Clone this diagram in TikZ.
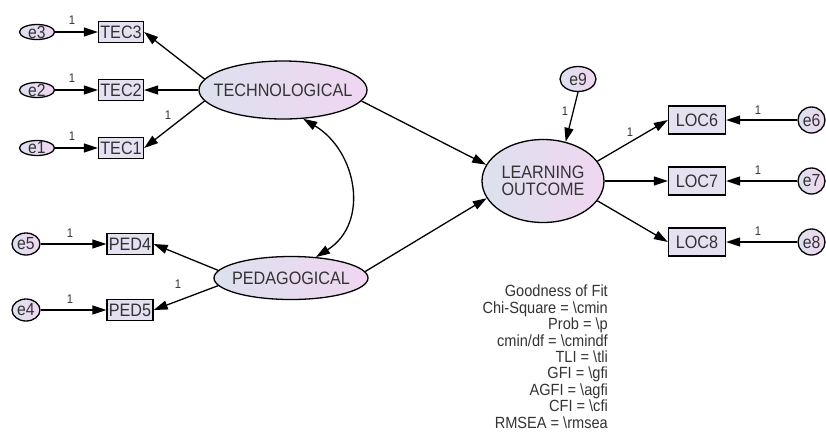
\documentclass[tikz,border=0pt]{standalone}
\usepackage{fontspec}
\setmainfont{Liberation Sans}[FakeStretch=0.9]
\usetikzlibrary{arrows.meta,shapes.geometric}
\definecolor{lfill}{HTML}{DDE1EE}
\definecolor{rfill}{HTML}{F0D6F1}
\definecolor{boxfill}{HTML}{E6E1F1}
\definecolor{txt}{HTML}{333333}
\tikzset{
  >={Triangle[length=14pt,width=9pt]},
  latent/.style={ellipse, draw=black, line width=1.3pt, left color=lfill, right color=rfill, inner sep=0pt},
  lab/.style={text=txt, font=\fontsize{18}{16.5}\selectfont, inner sep=0pt, align=center},
  errlab/.style={text=txt, font=\fontsize{17.5}{17.5}\selectfont, inner sep=0pt},
  indbox/.style={rectangle, draw=black, line width=1.3pt, fill=boxfill, inner sep=0pt, text=txt, font=\fontsize{18}{18}\selectfont},
  pth/.style={line width=1.3pt, ->},
  one/.style={text=txt, font=\fontsize{12.5}{13}\selectfont, inner sep=0pt},
}
\begin{document}
\begin{tikzpicture}[x=1pt,y=-1pt]
\useasboundingbox (0,0) rectangle (826,432);
% indicator boxes
\node[indbox, minimum width=45, minimum height=21] (tec3) at (121,32) {TEC3};
\node[indbox, minimum width=45, minimum height=21] (tec2) at (121,90) {TEC2};
\node[indbox, minimum width=45, minimum height=21] (tec1) at (121,148) {TEC1};
\node[indbox, minimum width=46, minimum height=21] (ped4) at (130,244) {PED4};
\node[indbox, minimum width=46, minimum height=21] (ped5) at (130,310) {PED5};
\node[indbox, minimum width=57, minimum height=28] (loc6) at (697,120) {LOC6};
\node[indbox, minimum width=57, minimum height=28] (loc7) at (697,181) {LOC7};
\node[indbox, minimum width=57, minimum height=28] (loc8) at (697,242) {LOC8};
% error terms
\node[latent, minimum width=35, minimum height=15, label={[errlab]center:e3}] (e3) at (37,32) {};
\node[latent, minimum width=35, minimum height=15, label={[errlab]center:e2}] (e2) at (37,90) {};
\node[latent, minimum width=35, minimum height=15, label={[errlab]center:e1}] (e1) at (37,148) {};
\node[latent, minimum width=28, minimum height=22, label={[errlab]center:e5}] (e5) at (26,244) {};
\node[latent, minimum width=28, minimum height=22, label={[errlab]center:e4}] (e4) at (26,310) {};
\node[latent, minimum width=36, minimum height=25, label={[errlab]center:e9}] (e9) at (578,79) {};
\node[latent, minimum width=27, minimum height=26, label={[errlab]center:e6}] (e6) at (811.5,120) {};
\node[latent, minimum width=27, minimum height=26, label={[errlab]center:e7}] (e7) at (811.5,181) {};
\node[latent, minimum width=27, minimum height=26, label={[errlab]center:e8}] (e8) at (811.5,242) {};
% latent variables
\node[latent, minimum width=168, minimum height=58, label={[lab]center:TECHNOLOGICAL}] (tech) at (283,90) {};
\node[latent, minimum width=154, minimum height=43, label={[lab]center:PEDAGOGICAL}] (ped) at (291,278) {};
\node[latent, minimum width=122, minimum height=83, label={[lab]center:LEARNING\\OUTCOME}] (lo) at (543,181) {};
% paths
\draw[pth] (e3) -- (tec3);
\draw[pth] (e2) -- (tec2);
\draw[pth] (e1) -- (tec1);
\draw[pth] (e5) -- (ped4);
\draw[pth] (e4) -- (ped5);
\draw[pth] (tech.172) -- (tec3.east);
\draw[pth] (tech.west) -- (tec2.east);
\draw[pth] (tech.188) -- (tec1.east);
\draw[pth] (ped.174) -- (ped4.east);
\draw[pth] (ped.186) -- (ped5.east);
\draw[pth] (tech.-8) -- (lo.164);
\draw[pth] (ped.5) -- (lo.197);
\draw[pth] (e9.south) -- (lo.60);
\draw[pth] (lo.20) -- (loc6.west);
\draw[pth] (lo.east) -- (loc7.west);
\draw[pth] (lo.-20) -- (loc8.west);
\draw[pth] (e6) -- (loc6);
\draw[pth] (e7) -- (loc7);
\draw[pth] (e8) -- (loc8);
\draw[line width=1.3pt, <->] (tech.-55) .. controls (357,151) and (370,223) .. (ped.40);
% regression weight labels
\node[one] (w1) at (72,20) {1};
\node[one] (w2) at (72,78) {1};
\node[one] (w3) at (72,136) {1};
\node[one] (w4) at (168,115) {1};
\node[one] (w5) at (70,233) {1};
\node[one] (w6) at (70,299) {1};
\node[one] (w7) at (178,284) {1};
\node[one] (w8) at (565,111) {1};
\node[one] (w9) at (630,132) {1};
\node[one] (w10) at (758,110) {1};
\node[one] (w11) at (758,170) {1};
\node[one] (w12) at (758,231) {1};
% fit text
\node[anchor=north east, align=right, inner sep=0pt, text=txt, font=\fontsize{16.2}{16.4}\selectfont] (fit) at (608,285) {Goodness of Fit\\Chi-Square = \textbackslash cmin\\Prob = \textbackslash p\\cmin/df = \textbackslash cmindf\\TLI = \textbackslash tli\\GFI = \textbackslash gfi\\AGFI = \textbackslash agfi\\CFI = \textbackslash cfi\\RMSEA = \textbackslash rmsea};
\end{tikzpicture}
\end{document}
